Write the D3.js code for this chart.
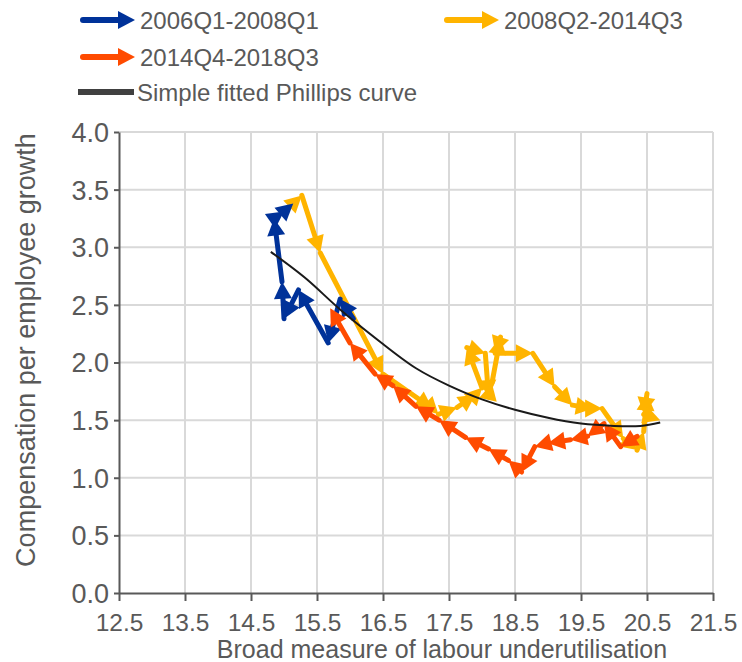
<!DOCTYPE html>
<meta charset="utf-8">
<style>
    body { margin: 0; background: #ffffff; }
    text {
        font-family: "Liberation Sans", Arial, sans-serif;
        fill: #595959;
    }
    .grid line { stroke: #d9d9d9; stroke-width: 2px; }
    .axis path, .axis line { stroke: #595959; stroke-width: 2px; }
</style>
<svg width="742" height="662"></svg>
<script src="https://d3js.org/d3.v7.min.js"></script>
<script>

    // tick values
    var xTicks = [12.5, 13.5, 14.5, 15.5, 16.5, 17.5, 18.5, 19.5, 20.5, 21.5];
    var yTicks = [0, 0.5, 1.0, 1.5, 2.0, 2.5, 3.0, 3.5, 4.0];

    var seriesNames = ["2006Q1-2008Q1", "2008Q2-2014Q3", "2014Q4-2018Q3"];
    var seriesColors = ["#003299", "#ffb400", "#ff4b00"];
    var curveName = "Simple fitted Phillips curve";

    // [underutilisation, compensation growth]
    var s2006 = [
        [16.05, 2.38], [15.85, 2.55], [15.67, 2.17], [15.22, 2.63], [15.0, 2.38],
        [14.97, 2.70], [14.85, 3.25], [15.0, 3.31], [15.14, 3.38]
    ];
    var s2008 = [
        [15.14, 3.38], [15.27, 3.45], [15.55, 2.95], [16.5, 1.90], [17.25, 1.60],
        [17.34, 1.55], [17.62, 1.61], [17.9, 1.72], [18.0, 1.78], [17.77, 2.13],
        [18.05, 2.08], [18.1, 1.70], [18.15, 1.82], [18.28, 2.22], [18.2, 2.08],
        [18.77, 2.08], [19.1, 1.79], [19.37, 1.63], [19.68, 1.60], [19.82, 1.60],
        [20.14, 1.34], [20.35, 1.24], [20.45, 1.40], [20.5, 1.73], [20.45, 1.55],
        [20.7, 1.50]
    ];
    var s2014 = [
        [20.35, 1.36], [20.1, 1.27], [19.85, 1.47], [19.6, 1.36], [19.34, 1.33],
        [19.0, 1.30], [18.8, 1.27], [18.6, 1.05], [18.4, 1.15], [18.1, 1.25],
        [17.75, 1.35], [17.35, 1.50], [17.0, 1.62], [16.65, 1.80], [16.38, 1.90],
        [16.0, 2.17], [15.7, 2.47]
    ];
    var phillips = [
        [14.8, 2.96], [15.35, 2.72], [15.85, 2.46], [16.5, 2.16], [17.0, 1.95],
        [17.5, 1.80], [18.0, 1.68], [18.5, 1.59], [19.0, 1.52], [19.5, 1.47],
        [20.0, 1.45], [20.4, 1.45], [20.7, 1.48]
    ];

    var svg = d3.select("svg");

    var x = d3.scaleLinear().domain([12.5, 21.5]).range([119, 713]);
    var y = d3.scaleLinear().domain([0, 4]).range([593, 132]);

    // gridlines
    var grid = svg.append("g").attr("class", "grid");
    grid.selectAll(".gx").data(xTicks.slice(1)).enter().append("line")
        .attr("x1", function (d) { return x(d); })
        .attr("x2", function (d) { return x(d); })
        .attr("y1", y(0)).attr("y2", y(4));
    grid.selectAll(".gy").data(yTicks.slice(1)).enter().append("line")
        .attr("x1", x(12.5)).attr("x2", x(21.5))
        .attr("y1", function (d) { return y(d); })
        .attr("y2", function (d) { return y(d); });

    // axes
    var xAxis = svg.append("g").attr("class", "axis")
        .attr("transform", "translate(0," + y(0) + ")")
        .call(d3.axisBottom(x).tickValues(xTicks).tickSize(8).tickSizeOuter(0)
            .tickFormat(d3.format(".1f")));
    var yAxis = svg.append("g").attr("class", "axis")
        .attr("transform", "translate(" + x(12.5) + ",0)")
        .call(d3.axisLeft(y).tickValues(yTicks).tickSize(5).tickSizeOuter(0)
            .tickFormat(d3.format(".1f")));
    xAxis.selectAll("text").style("font-size", "24.5px").attr("dy", "0").attr("y", 38);
    yAxis.selectAll("text").style("font-size", "27px").attr("x", -10).attr("dy", "0.35em");

    svg.append("text")
        .attr("x", 442).attr("y", 658)
        .attr("text-anchor", "middle")
        .style("font-size", "25px")
        .text("Broad measure of labour underutilisation");
    svg.append("text")
        .attr("transform", "translate(35,350) rotate(-90)")
        .attr("text-anchor", "middle")
        .style("font-size", "27px")
        .text("Compensation per employee growth");

    // arrow segment: line then triangular head at the end point
    function arrow(g, a, b, color, w, head, hw) {
        var dx = b[0] - a[0], dy = b[1] - a[1];
        var len = Math.sqrt(dx * dx + dy * dy);
        if (len === 0) return;
        var ux = dx / len, uy = dy / len;
        var back = Math.max(0, len - head * 0.6);
        g.append("line")
            .attr("x1", a[0]).attr("y1", a[1])
            .attr("x2", a[0] + ux * back).attr("y2", a[1] + uy * back)
            .attr("stroke", color).attr("stroke-width", w)
            .attr("stroke-linecap", "round");
        var bx = b[0] - ux * head, by = b[1] - uy * head;
        g.append("path")
            .attr("d", "M" + b[0] + "," + b[1] +
                "L" + (bx - uy * hw) + "," + (by + ux * hw) +
                "L" + (bx + uy * hw) + "," + (by - ux * hw) + "Z")
            .attr("fill", color);
    }

    function drawSeries(data, color) {
        var g = svg.append("g");
        var pts = data.map(function (d) { return [x(d[0]), y(d[1])]; });
        for (var i = 1; i < pts.length; i++) {
            arrow(g, pts[i - 1], pts[i], color, 5, 17, 9);
        }
    }

    drawSeries(s2008, seriesColors[1]);
    drawSeries(s2006, seriesColors[0]);
    drawSeries(s2014, seriesColors[2]);

    svg.append("path")
        .datum(phillips)
        .attr("fill", "none")
        .attr("stroke", "#1a1a1a")
        .attr("stroke-width", 2)
        .attr("d", d3.line()
            .x(function (d) { return x(d[0]); })
            .y(function (d) { return y(d[1]); })
            .curve(d3.curveNatural));

    // legend
    var legend = svg.append("g");
    var legPos = [[83, 20], [447, 20], [83, 57]];
    seriesNames.forEach(function (name, i) {
        var p = legPos[i];
        arrow(legend, [p[0], p[1]], [p[0] + 52, p[1]], seriesColors[i], 6, 17, 9);
        legend.append("text")
            .attr("x", p[0] + 57).attr("y", p[1] + 9)
            .style("font-size", "24px")
            .text(name);
    });
    legend.append("line")
        .attr("x1", 78).attr("x2", 134)
        .attr("y1", 92).attr("y2", 92)
        .attr("stroke", "#404040").attr("stroke-width", 6);
    legend.append("text")
        .attr("x", 137).attr("y", 101)
        .style("font-size", "24px")
        .text(curveName);
</script>
